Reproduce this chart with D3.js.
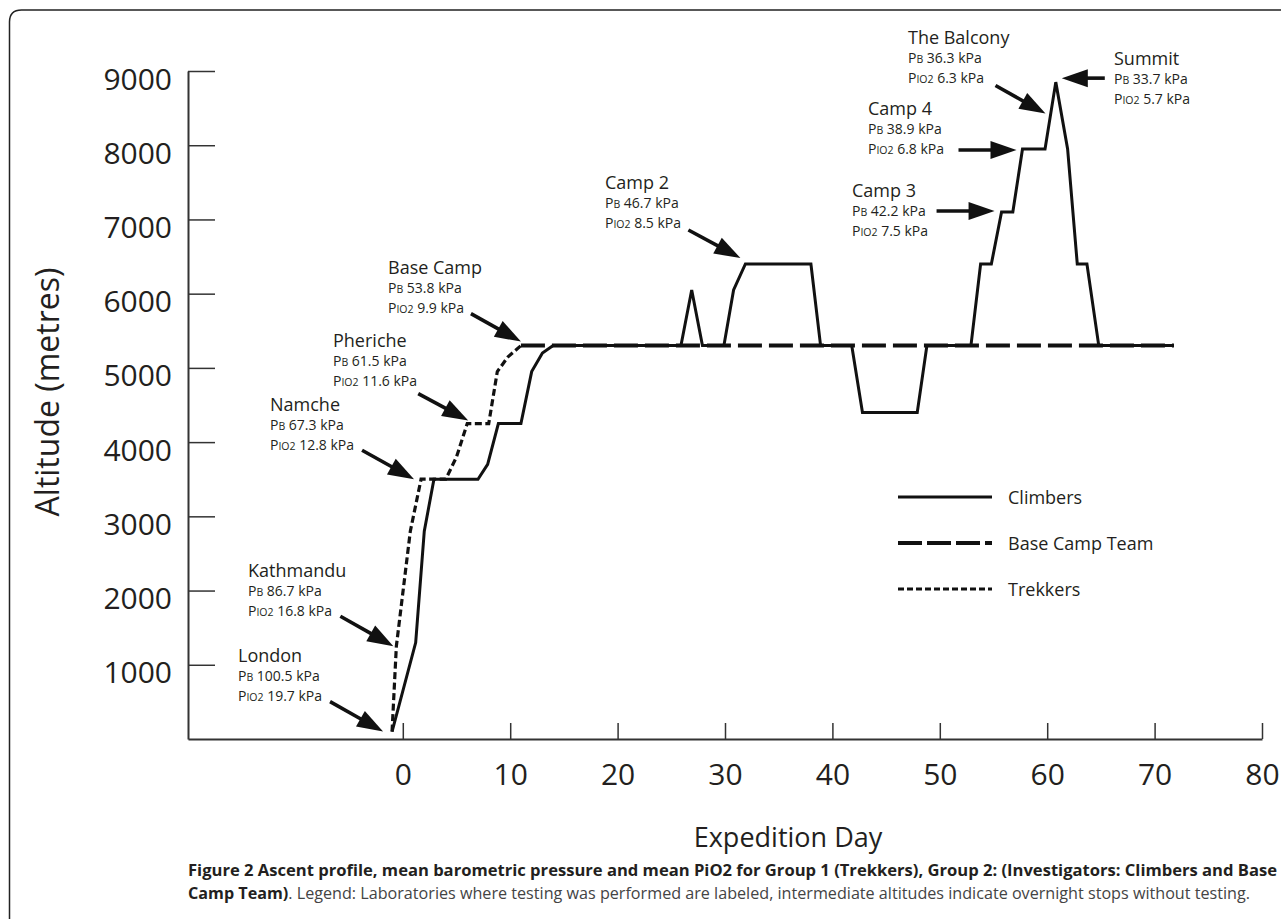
<!DOCTYPE html>
<html><head><meta charset="utf-8">
<script src="https://cdn.jsdelivr.net/npm/d3@7"></script>
<style>
body{margin:0;background:#fff}
svg{display:block}
text{font-family:"Open Sans",sans-serif;fill:#231f20}
</style>
</head><body>
<svg id="chart" width="1281" height="919"></svg>
<script>
// ---------------- DATA ----------------
const climberDays = [-1, 1.2, 2, 2.9, 7, 7.9, 8.9, 11, 12, 13, 14, 25.9, 26.9, 27.9, 29.9, 30.8, 31.9, 38, 38.9, 41.8, 42.8, 47.9, 48.8, 52.9, 53.8, 54.8, 55.75, 56.8, 57.7, 59.8, 60.8, 61.9, 62.8, 63.7, 64.8, 71.8];
const climberAlts = [100, 1300, 2800, 3500, 3500, 3700, 4250, 4250, 4950, 5200, 5300, 5300, 6050, 5300, 5300, 6050, 6400, 6400, 5300, 5300, 4400, 4400, 5300, 5300, 6400, 6400, 7100, 7100, 7950, 7950, 8850, 7950, 6400, 6400, 5300, 5300];
const trekkerDays = [-1, -0.6, 0.7, 1.7, 4, 5, 6, 8, 8.8, 9.8, 11];
const trekkerAlts = [100, 1250, 2800, 3500, 3500, 3800, 4250, 4250, 4950, 5150, 5300];
const baseCampDays = [11, 71.8];
const baseCampAlts = [5300, 5300];

const xTickValues = [0, 10, 20, 30, 40, 50, 60, 70, 80];
const yTickValues = [1000, 2000, 3000, 4000, 5000, 6000, 7000, 8000, 9000];

const siteNames = ["London", "Kathmandu", "Namche", "Pheriche", "Base Camp", "Camp 2", "Camp 3", "Camp 4", "The Balcony", "Summit"];
const sitePB    = ["100.5", "86.7", "67.3", "61.5", "53.8", "46.7", "42.2", "38.9", "36.3", "33.7"];
const sitePIO2  = ["19.7", "16.8", "12.8", "11.6", "9.9", "8.5", "7.5", "6.8", "6.3", "5.7"];
const siteDays  = [-1, -0.6, 1.7, 6, 11, 31.9, 55.75, 57.7, 60.4, 60.8];
const siteAlts  = [100, 1250, 3500, 4250, 5300, 6400, 7100, 7950, 8400, 8850];

const seriesNames = ["Climbers", "Base Camp Team", "Trekkers"];

const xTitle = "Expedition Day";
const yTitle = "Altitude (metres)";
const captionBold1 = "Figure 2 Ascent profile, mean barometric pressure and mean PiO2 for Group 1 (Trekkers), Group 2: (Investigators: Climbers and Base";
const captionBold2 = "Camp Team)";
const captionRest = ". Legend: Laboratories where testing was performed are labeled, intermediate altitudes indicate overnight stops without testing.";

// ---------------- LAYOUT (pixels) ----------------
const tipOffsets  = [[-9,0],[-3,0],[-7,0],[1,-3],[0,-4],[-5,-6],[-7,-1],[-6,1],[-6,-2],[6,-4]];
const tailOffsets = [[-53,-30],[-53,-30],[-52,-29],[-50,-27],[-50,-28],[-52,-28],[-58,0],[-58,0],[-50,-28],[43,0]];
const labelPos    = [[238,655],[248,570],[270,404],[333,340],[388,267],[605,182],[852,190],[868,108],[908,37],[1114,58]];

const svg = d3.select("#chart");

const x = d3.scaleLinear().domain([-20, 80]).range([188, 1262]);
const y = d3.scaleLinear().domain([0, 9000]).range([739, 71]);

// frame
svg.append("path")
  .attr("d", "M9.5,919 V22 Q9.5,10 21.5,10 H1281")
  .attr("fill", "none").attr("stroke", "#222").attr("stroke-width", 1.5);

// axes
const xAxis = svg.append("g").attr("transform", "translate(0,739)")
  .call(d3.axisBottom(x).tickValues(xTickValues).tickSizeInner(-16).tickSizeOuter(0).tickPadding(25));
const yAxis = svg.append("g").attr("transform", "translate(188,0)")
  .call(d3.axisLeft(y).tickValues(yTickValues).tickFormat(d3.format("d")).tickSizeInner(-27).tickSizeOuter(0).tickPadding(16));
[xAxis, yAxis].forEach(g => {
  g.select(".domain").attr("stroke", "#333").attr("stroke-width", 2);
  g.selectAll(".tick line").attr("stroke", "#333").attr("stroke-width", 1.5);
  g.selectAll(".tick text").attr("font-size", 30).attr("font-family", '"Open Sans",sans-serif').attr("fill", "#231f20");
});
yAxis.selectAll(".tick text").attr("dy", "0.6em");

// axis titles
svg.append("text").attr("x", 788).attr("y", 847).attr("text-anchor", "middle")
  .attr("font-size", 27).text(xTitle);
svg.append("text").attr("transform", "translate(59,392) rotate(-90)").attr("text-anchor", "middle")
  .attr("font-size", 32).text(yTitle);

// lines
const line = d3.line().x(d => x(d[0])).y(d => y(d[1]));
const baseCamp = baseCampDays.map((d, i) => [d, baseCampAlts[i]]);
const trekkers = trekkerDays.map((d, i) => [d, trekkerAlts[i]]);
const climbers = climberDays.map((d, i) => [d, climberAlts[i]]);

svg.append("path").datum(baseCamp).attr("d", line)
  .attr("fill", "none").attr("stroke", "#111").attr("stroke-width", 4).attr("stroke-dasharray", "24,7");
svg.append("path").datum(trekkers).attr("d", line)
  .attr("fill", "none").attr("stroke", "#111").attr("stroke-width", 3.2).attr("stroke-dasharray", "7,3.5");
svg.append("path").datum(climbers).attr("d", line)
  .attr("fill", "none").attr("stroke", "#111").attr("stroke-width", 3).attr("stroke-linejoin", "miter");

// annotations
function arrow(tx, ty, hx, hy) {
  const dx = hx - tx, dy = hy - ty, len = Math.hypot(dx, dy);
  const ux = dx / len, uy = dy / len, nx = -uy, ny = ux;
  const L = 26, w = 9;
  const bx = hx - ux * L, by = hy - uy * L;
  svg.append("line").attr("x1", tx).attr("y1", ty).attr("x2", bx + ux * 2).attr("y2", by + uy * 2)
    .attr("stroke", "#111").attr("stroke-width", 3.6);
  svg.append("path").attr("d", `M${hx},${hy}L${bx + nx * w},${by + ny * w}L${bx - nx * w},${by - ny * w}Z`)
    .attr("fill", "#111");
}

siteNames.forEach((name, i) => {
  const px = x(siteDays[i]) + tipOffsets[i][0];
  const py = y(siteAlts[i]) + tipOffsets[i][1];
  arrow(px + tailOffsets[i][0], py + tailOffsets[i][1], px, py);
  const [lx, ly] = labelPos[i];
  svg.append("text").attr("x", lx).attr("y", ly + 6.5).attr("font-size", 18).text(name);
  const pb = svg.append("text").attr("x", lx).attr("y", ly + 21 + 5).attr("font-size", 14);
  pb.append("tspan").text("P");
  pb.append("tspan").attr("font-size", 10.5).text("B");
  pb.append("tspan").text(" " + sitePB[i] + " kPa");
  const po = svg.append("text").attr("x", lx).attr("y", ly + 41 + 5).attr("font-size", 14);
  po.append("tspan").text("P");
  po.append("tspan").attr("font-size", 10.5).text("IO2");
  po.append("tspan").text(" " + sitePIO2[i] + " kPa");
});

// legend
const legendStyles = [
  {w: 3, dash: null},
  {w: 4, dash: "24,5"},
  {w: 3.2, dash: "6,3"}
];
seriesNames.forEach((n, i) => {
  const ly = 497 + i * 46;
  const l = svg.append("line").attr("x1", 898).attr("x2", 992).attr("y1", ly).attr("y2", ly)
    .attr("stroke", "#111").attr("stroke-width", legendStyles[i].w);
  if (legendStyles[i].dash) l.attr("stroke-dasharray", legendStyles[i].dash);
  svg.append("text").attr("x", 1008).attr("y", ly + 6.5).attr("font-size", 18).text(n);
});

// caption
const c1 = svg.append("text").attr("x", 188).attr("y", 876).attr("font-size", 16).attr("font-weight", "bold")
  .text(captionBold1);
c1.attr("textLength", 1089).attr("lengthAdjust", "spacingAndGlyphs");
const c2 = svg.append("text").attr("x", 188).attr("y", 899).attr("font-size", 16);
c2.append("tspan").attr("font-weight", "bold").text(captionBold2);
c2.append("tspan").attr("fill", "#444").text(captionRest);
c2.attr("textLength", 1062).attr("lengthAdjust", "spacingAndGlyphs");
</script>
</body></html>
